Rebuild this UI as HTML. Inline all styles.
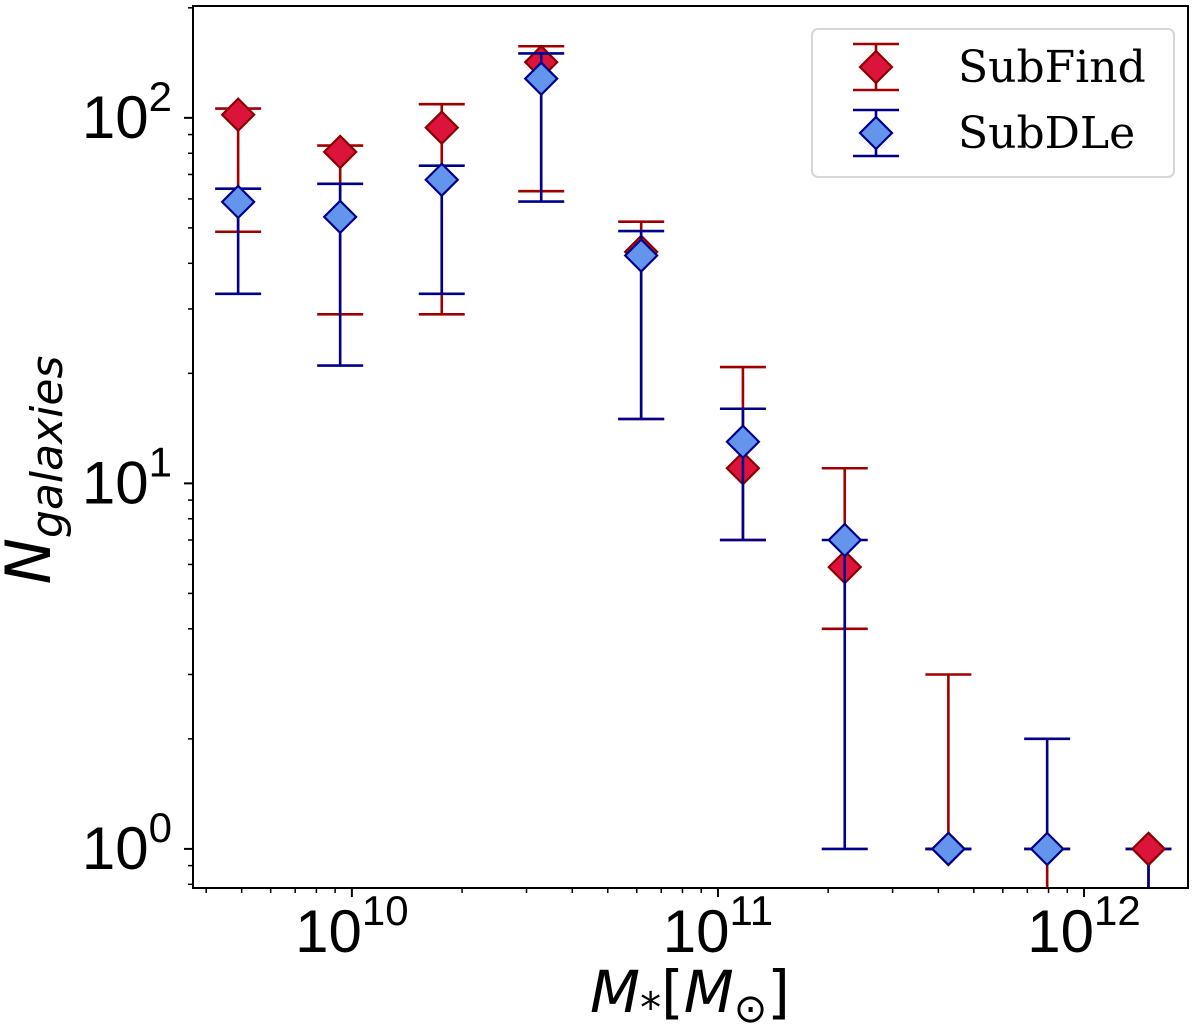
<!DOCTYPE html>
<html><head><meta charset="utf-8"><style>
html,body{margin:0;padding:0;background:#fff;}
svg{display:block;}
</style></head><body>
<svg id="chart" width="1200" height="1029" viewBox="0 0 1200 1029" xmlns="http://www.w3.org/2000/svg">
<g id="grid"></g>
<g id="marks"></g>
<rect x="193" y="6" width="995" height="882" fill="none" stroke="#000" stroke-width="2"/>
<g id="ticks"></g>
<text x="30" y="470" transform="rotate(-90 30 470)" text-anchor="middle" font-family="'DejaVu Sans','Liberation Sans',sans-serif" font-style="italic"><tspan font-size="62" dy="20">N</tspan><tspan font-size="44" dy="12">galaxies</tspan></text>
<text x="690" y="1012" text-anchor="middle" font-family="'DejaVu Sans','Liberation Sans',sans-serif" font-size="58"><tspan font-style="italic">M</tspan><tspan font-size="42" dy="10">*</tspan><tspan dy="-10">[</tspan><tspan font-style="italic">M</tspan><tspan font-size="40" dy="10">⊙</tspan><tspan dy="-10">]</tspan></text>
<g id="legend">
<rect x="812" y="29" width="362" height="148" rx="6" fill="#fff" fill-opacity="0.8" stroke="#d6d6d6" stroke-width="2"/>
</g>
</svg>
<script>
const xVals = [4.89e9, 9.29e9, 1.76e10, 3.29e10, 6.17e10, 1.17e11, 2.22e11, 4.26e11, 7.93e11, 1.50e12];
const subfindY = [102, 80.7, 94, 142, 43, 11, 5.9, 1, 0, 1];
const subfindLo = [48.8, 29, 29, 63, 15, 7, 4, 1, 0, 0];
const subfindHi = [106, 84, 109, 157, 52, 20.8, 11, 3, 1, 1];
const subdleY = [58.9, 53.6, 67.7, 128, 42, 13, 7, 1, 1, 0];
const subdleLo = [33, 21, 33, 59, 15, 7, 1, 1, 1, 0];
const subdleHi = [64, 66, 74, 150, 49, 16, 7, 1, 2, 1];
const yTickLabels = ["0", "1", "2"];
const xTickLabels = ["10", "11", "12"];

const NS = "http://www.w3.org/2000/svg";
const L = 193, R = 1188, T = 6, B = 888;
const xMin = 9.566, xMax = 12.284, yMin = -0.107, yMax = 2.306;
function xs(v){ return L + (Math.log10(v) - xMin) / (xMax - xMin) * (R - L); }
function ys(v){ if (v <= 0) return B + 50; return B - (Math.log10(v) - yMin) / (yMax - yMin) * (B - T); }
function mk(tag, attrs, parent){ const e = document.createElementNS(NS, tag); for (const k in attrs) e.setAttribute(k, attrs[k]); parent.appendChild(e); return e; }

const marks = document.getElementById("marks");
const clip = mk("clipPath", {id: "pc"}, document.getElementById("chart"));
mk("rect", {x: L, y: T, width: R - L, height: B - T}, clip);
marks.setAttribute("clip-path", "url(#pc)");

function diamond(g, name, x, y, face, edge){
  const s = 16;
  const d = mk("polygon", {points: `${x},${y-s} ${x+s},${y} ${x},${y+s} ${x-s},${y}`, fill: face, stroke: edge, "stroke-width": 2.2}, g);
  
  
}
function series(name, Y, Lo, Hi, line, face, edge){
  const g = mk("g", {}, marks);
  
  
  for (let i = 0; i < xVals.length; i++){
    const x = xs(xVals[i]);
    const e = mk("line", {x1: x, x2: x, y1: ys(Lo[i]), y2: ys(Hi[i]), stroke: line, "stroke-width": 2.6}, g);
    
    
    [Lo[i], Hi[i]].forEach(v => {
      if (v <= 0) return;
      const c = mk("line", {x1: x - 23, x2: x + 23, y1: ys(v), y2: ys(v), stroke: line, "stroke-width": 2.6}, g);
      
      
    });
  }
  for (let i = 0; i < xVals.length; i++){
    if (Y[i] <= 0) continue;
    diamond(g, name, xs(xVals[i]), ys(Y[i]), face, edge);
  }
  return g;
}
series("subfind", subfindY, subfindLo, subfindHi, "#a00000", "#dc143c", "#8b0000");
series("subdle", subdleY, subdleLo, subdleHi, "#00008b", "#6495ed", "#00008b");
const topGroup = mk("g", {}, marks);


for (let i = 0; i < xVals.length; i++){
  if (subfindY[i] > 0 && subdleY[i] <= 0) diamond(topGroup, "subfind", xs(xVals[i]), ys(subfindY[i]), "#dc143c", "#8b0000");
}

const ticks = document.getElementById("ticks");
for (let k = -1; k <= 2; k++){
  for (let m = 1; m <= 9; m++){
    const v = m * Math.pow(10, k);
    const lv = Math.log10(v);
    if (lv < yMin || lv > yMax) continue;
    const y = ys(v);
    const t = mk("line", {x1: L, x2: L - (m === 1 ? 9 : 5), y1: y, y2: y, stroke: "#000", "stroke-width": m === 1 ? 2 : 1.5}, ticks);
    
    
  }
}
yTickLabels.forEach(p => {
  const y = ys(Math.pow(10, +p));
  const t = mk("text", {x: 172, y: y + 20, "text-anchor": "end", "font-family": "'Liberation Sans',sans-serif", "font-size": 60}, ticks);
  t.innerHTML = '10<tspan font-size="42" dy="-27">' + p + '</tspan>';
  
  
});
for (let k = 9; k <= 12; k++){
  for (let m = 1; m <= 9; m++){
    const v = m * Math.pow(10, k);
    const lv = Math.log10(v);
    if (lv < xMin || lv > xMax) continue;
    const x = xs(v);
    const t = mk("line", {x1: x, x2: x, y1: B, y2: B + (m === 1 ? 9 : 5), stroke: "#000", "stroke-width": m === 1 ? 2 : 1.5}, ticks);
    
    
  }
}
xTickLabels.forEach(p => {
  const x = xs(Math.pow(10, +p));
  const t = mk("text", {x: x, y: 952, "text-anchor": "middle", "font-family": "'Liberation Sans',sans-serif", "font-size": 60}, ticks);
  t.innerHTML = '10<tspan font-size="42" dy="-27">' + p + '</tspan>';
  
  
});

const lg = document.getElementById("legend");
[["SubFind", 67, 82, "#a00000", "#dc143c", "#8b0000"], ["SubDLe", 133, 148, "#00008b", "#6495ed", "#00008b"]].forEach(([lab, cy, by, line, face, edge]) => {
  const g = mk("g", {}, lg);
  
  
  const x = 876;
  mk("line", {x1: x, x2: x, y1: cy - 23, y2: cy + 23, stroke: line, "stroke-width": 2.6}, g);
  mk("line", {x1: x - 23, x2: x + 23, y1: cy - 23, y2: cy - 23, stroke: line, "stroke-width": 2.6}, g);
  mk("line", {x1: x - 23, x2: x + 23, y1: cy + 23, y2: cy + 23, stroke: line, "stroke-width": 2.6}, g);
  mk("polygon", {points: `${x},${cy-16} ${x+16},${cy} ${x},${cy+16} ${x-16},${cy}`, fill: face, stroke: edge, "stroke-width": 2.2}, g);
  const t = mk("text", {x: 958, y: by, "font-family": "'DejaVu Serif','Liberation Serif',serif", "font-size": 44}, g);
  t.textContent = lab;
});
</script>
</body></html>
